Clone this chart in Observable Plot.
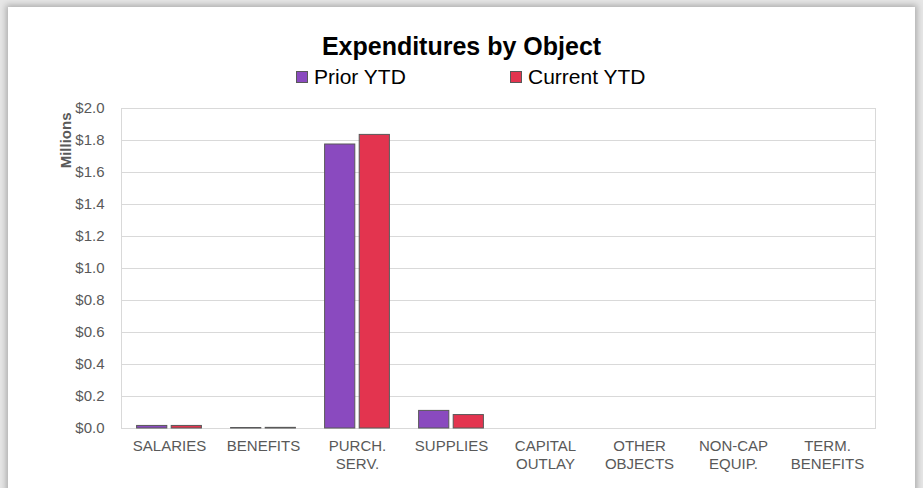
<!DOCTYPE html>
<html>
<head>
<meta charset="utf-8">
<script src="https://cdn.jsdelivr.net/npm/d3@7"></script>
<script src="https://cdn.jsdelivr.net/npm/@observablehq/plot@0.6"></script>
<style>
  html, body { margin: 0; padding: 0; }
  body { width: 923px; height: 488px; background: #e6e6e6; position: relative; overflow: hidden; font-family: "Liberation Sans", Arial, sans-serif; }
  #card { position: absolute; left: 8px; top: 7px; width: 907px; height: 495px; background: #fff; box-shadow: 0 0 6px 2px rgba(0,0,0,0.25); }
  #title { position: absolute; left: 0; width: 907px; top: 27px; text-align: center; font-size: 25px; line-height: 25px; font-weight: bold; color: #000; }
  .leg { position: absolute; top: 59px; font-size: 21px; line-height: 21px; color: #000; display: flex; align-items: center; }
  .sw { width: 10px; height: 10px; border: 1px solid #595959; margin-right: 6px; }
  #chart { position: absolute; left: 0; top: 90px; }
</style>
</head>
<body>
<div id="card">
  <div id="title">Expenditures by Object</div>
  <div class="leg" style="left:288px"><span class="sw" style="background:#8A4ABF"></span>Prior YTD</div>
  <div class="leg" style="left:502px"><span class="sw" style="background:#E3344F"></span>Current YTD</div>
  <div id="chart"></div>
</div>
<script>
const categories = ["SALARIES", "BENEFITS", "PURCH.\nSERV.", "SUPPLIES", "CAPITAL\nOUTLAY", "OTHER\nOBJECTS", "NON-CAP\nEQUIP.", "TERM.\nBENEFITS"];
const priorYTD = [0.016, 0.003, 1.775, 0.110, 0, 0, 0, 0];
const currentYTD = [0.016, 0.004, 1.835, 0.084, 0, 0, 0, 0];
const yTicks = [0, 0.2, 0.4, 0.6, 0.8, 1.0, 1.2, 1.4, 1.6, 1.8, 2.0];

const priorData = categories.map((c, i) => ({cat: c, v: priorYTD[i]})).filter(d => d.v > 0);
const currentData = categories.map((c, i) => ({cat: c, v: currentYTD[i]})).filter(d => d.v > 0);

const chart = Plot.plot({
  width: 907,
  height: 391,
  marginLeft: 113,
  marginRight: 40,
  marginTop: 11,
  marginBottom: 60,
  x: {domain: categories, padding: 0, label: null},
  y: {domain: [0, 2], label: null},
  style: {fontFamily: "'Liberation Sans', Arial, sans-serif", fontSize: "15px", color: "#595959", background: "transparent"},
  marks: [
    Plot.ruleY(yTicks, {stroke: "#d9d9d9", strokeWidth: 1}),
    Plot.frame({stroke: "#d9d9d9"}),
    Plot.barY(priorData, {x: "cat", y: "v", fill: "#8A4ABF", stroke: "#595959", strokeWidth: 1, insetLeft: 14.6, insetRight: 49.2}),
    Plot.barY(currentData, {x: "cat", y: "v", fill: "#E3344F", stroke: "#595959", strokeWidth: 1, insetLeft: 49.2, insetRight: 14.6}),
    Plot.axisY({ticks: yTicks, tickFormat: d => "$" + d.toFixed(1), tickSize: 0, tickPadding: 17, fontSize: 15, label: null}),
    Plot.axisX({tickSize: 0, tickPadding: 10, fontSize: 15, lineHeight: 1.2, label: null}),
    Plot.text(["Millions"], {frameAnchor: "top-left", rotate: -90, textAnchor: "end", dx: -61, dy: 4, fontWeight: "bold", fontSize: 15, fill: "#595959"})
  ]
});
document.getElementById("chart").appendChild(chart);
</script>
</body>
</html>
